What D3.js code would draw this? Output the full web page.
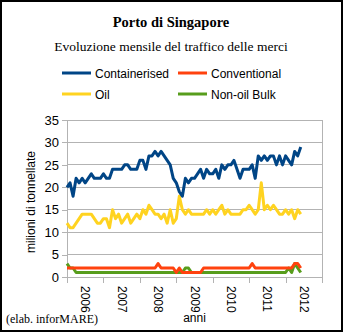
<!DOCTYPE html>
<html>
<head>
<meta charset="utf-8">
<script src="https://cdn.jsdelivr.net/npm/d3@7"></script>
<style>
  html, body { margin: 0; padding: 0; background: #fff; }
  svg { display: block; }
</style>
</head>
<body>
<svg id="chart" width="343" height="332"></svg>
<script>
// Monthly cargo throughput, Port of Singapore, Jan 2006 – Jun 2012 (million tonnes)
const years = ["2006", "2007", "2008", "2009", "2010", "2011", "2012"];
const seriesNames = ["Containerised", "Conventional", "Oil", "Non-oil Bulk"];
const seriesColors = ["#004586", "#ff420e", "#ffd320", "#579d1c"];

const containerised = [
  20, 21, 18, 22, 21, 22, 21, 22, 23, 22, 22, 22,
  23, 22, 22, 24, 24, 24, 24, 25, 25, 24, 24, 24,
  26, 26, 24, 27, 27, 28, 27, 28, 27, 26, 25, 22,
  21, 19, 18, 22, 21, 22, 22, 23, 24, 22, 24, 23,
  23, 24, 22, 25, 24, 25, 25, 26, 24, 22, 24, 24,
  24, 25, 22, 27, 26, 27, 26, 27, 27, 25, 27, 25,
  27, 26, 25, 28, 27, 29
];
const conventional = [
  2, 2, 2, 2, 2, 2, 2, 2, 2, 2, 2, 2,
  2, 2, 2, 2, 2, 2, 2, 2, 2, 2, 2, 2,
  2, 2, 2, 2, 2, 2, 3, 2, 2, 2, 2, 2,
  1, 2, 1, 1, 1, 1, 1, 1, 1, 2, 2, 2,
  2, 2, 2, 2, 2, 2, 2, 2, 2, 2, 2, 2,
  2, 3, 2, 2, 2, 2, 2, 2, 2, 2, 2, 2,
  2, 2, 2, 3, 3, 2
];
const oil = [
  12, 11, 11, 12, 13, 14, 14, 14, 14, 13, 12, 12,
  13, 13, 11, 15, 13, 14, 12, 13, 14, 12, 13, 14,
  13, 15, 14, 16, 15, 14, 14, 13, 14, 12, 15, 12,
  13, 18, 15, 14, 15, 14, 14, 14, 14, 14, 15, 14,
  15, 14, 15, 16, 14, 15, 14, 14, 14, 14, 15, 15,
  16, 15, 14, 15, 21, 15, 16, 15, 16, 15, 14, 14,
  15, 14, 15, 13, 15, 14
];
const nonOilBulk = [
  3, 2, 2, 1, 1, 1, 1, 1, 1, 1, 1, 1,
  1, 1, 1, 1, 1, 1, 1, 1, 1, 1, 1, 1,
  1, 1, 1, 1, 1, 1, 1, 1, 1, 1, 1, 1,
  1, 1, 1, 2, 2, 1, 1, 1, 1, 1, 1, 1,
  1, 1, 1, 1, 1, 1, 1, 1, 1, 1, 1, 1,
  1, 1, 1, 1, 1, 1, 1, 1, 1, 1, 1, 1,
  1, 2, 1, 3, 2, 1
];
const yTicks = [0, 5, 10, 15, 20, 25, 30, 35];

const svg = d3.select("#chart");
const W = 343, H = 332;
const plot = { left: 67, right: 322, top: 120, bottom: 277 };

// frame
svg.append("rect").attr("x", 1).attr("y", 1).attr("width", W - 2).attr("height", H - 2)
  .attr("fill", "#fff").attr("stroke", "#000").attr("stroke-width", 2);

// titles
svg.append("text").attr("x", 171).attr("y", 27).attr("text-anchor", "middle")
  .attr("font-family", "Liberation Serif, Times New Roman, serif").attr("font-weight", "bold")
  .attr("font-size", 14.5).text("Porto di Singapore");
svg.append("text").attr("x", 171).attr("y", 51).attr("text-anchor", "middle")
  .attr("font-family", "Liberation Serif, Times New Roman, serif")
  .attr("font-size", 13.5).text("Evoluzione mensile del traffico delle merci");

// scales: months on x, with one tick every 12 months
const nMonths = years.length * 12;
const x = d3.scaleLinear().domain([0, nMonths]).range([plot.left, plot.right]);
const y = d3.scaleLinear().domain([0, 35]).range([plot.bottom, plot.top]);

// gridlines
svg.append("g").selectAll("line").data(yTicks.filter(d => d > 0)).join("line")
  .attr("x1", plot.left).attr("x2", plot.right)
  .attr("y1", d => y(d)).attr("y2", d => y(d))
  .attr("stroke", "#b3b3b3").attr("stroke-width", 1).attr("shape-rendering", "crispEdges");
// right border of the plot wall
svg.append("line").attr("x1", plot.right).attr("x2", plot.right)
  .attr("y1", plot.top).attr("y2", plot.bottom)
  .attr("stroke", "#b3b3b3").attr("shape-rendering", "crispEdges");

// y axis
const yAxis = svg.append("g").attr("transform", `translate(${plot.left},0)`)
  .call(d3.axisLeft(y).tickValues(yTicks).tickSize(5).tickPadding(3));
yAxis.select(".domain").attr("stroke", "#b3b3b3");
yAxis.selectAll(".tick line").attr("stroke", "#b3b3b3");
yAxis.selectAll("text").attr("font-family", "Liberation Sans, Arial, sans-serif")
  .attr("font-size", 13).attr("fill", "#000");
yAxis.attr("shape-rendering", "crispEdges");

// x axis: ticks at year boundaries, year labels centred in each year
const xTickVals = d3.range(0, nMonths + 1, 12);
const xAxis = svg.append("g").attr("transform", `translate(0,${plot.bottom})`)
  .call(d3.axisBottom(x).tickValues(xTickVals).tickSize(6).tickFormat(""));
xAxis.select(".domain").attr("stroke", "#b3b3b3");
xAxis.selectAll(".tick line").attr("stroke", "#b3b3b3");
xAxis.attr("shape-rendering", "crispEdges");

svg.append("g").selectAll("text").data(years).join("text")
  .attr("transform", (d, i) => `translate(${x(i * 12 + 6) - 4},${plot.bottom + 9}) rotate(90)`)
  .attr("font-family", "Liberation Sans, Arial, sans-serif").attr("font-size", 12)
  .attr("text-anchor", "start").text(d => d);

// axis titles
svg.append("text")
  .attr("transform", "translate(35,202) rotate(-90)")
  .attr("text-anchor", "middle")
  .attr("font-family", "Liberation Sans, Arial, sans-serif").attr("font-size", 12)
  .text("milioni di tonnellate");
svg.append("text").attr("x", (plot.left + plot.right) / 2).attr("y", 322)
  .attr("text-anchor", "middle")
  .attr("font-family", "Liberation Sans, Arial, sans-serif").attr("font-size", 12)
  .text("anni");

// data lines
const data = [containerised, conventional, oil, nonOilBulk];
const line = d3.line().x((d, i) => x(i)).y(d => y(d));
const drawOrder = [3, 1, 2, 0];
svg.append("g").selectAll("path").data(drawOrder).join("path")
  .attr("d", k => line(data[k]))
  .attr("fill", "none").attr("stroke", k => seriesColors[k])
  .attr("stroke-width", 3).attr("stroke-linejoin", "round");

// legend
const legendPos = [[62, 73], [178, 73], [62, 94], [178, 94]];
const legend = svg.append("g").selectAll("g").data(seriesNames).join("g")
  .attr("transform", (d, i) => `translate(${legendPos[i][0]},${legendPos[i][1]})`);
legend.append("line").attr("x1", 0).attr("x2", 29).attr("y1", 0).attr("y2", 0)
  .attr("stroke", (d, i) => seriesColors[i]).attr("stroke-width", 3);
legend.append("text").attr("x", 33).attr("y", 4.5)
  .attr("font-family", "Liberation Sans, Arial, sans-serif").attr("font-size", 12)
  .text(d => d);

// source note
svg.append("text").attr("x", 6).attr("y", 323)
  .attr("font-family", "Liberation Serif, Times New Roman, serif").attr("font-size", 12)
  .text("(elab. inforMARE)");
</script>
</body>
</html>
